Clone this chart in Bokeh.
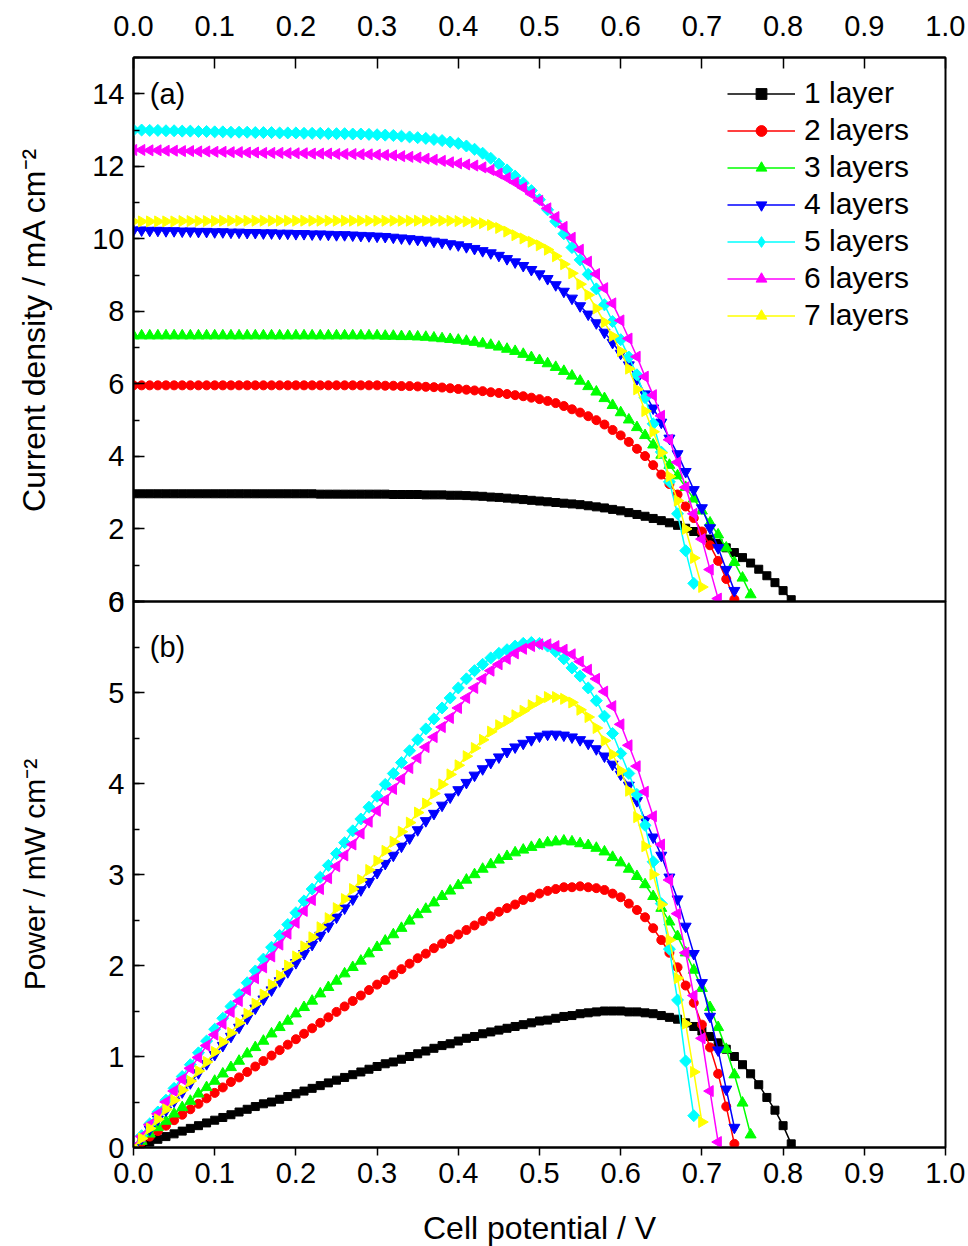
import math
from bokeh.plotting import figure
from bokeh.models import (Range1d, SingleIntervalTicker, NumeralTickFormatter,
                          Legend, LegendItem, Label)
from bokeh.layouts import column
from bokeh.embed import file_html
from bokeh.resources import INLINE

FONT = "Liberation Sans"

# ---------------- data ----------------
potential = [0.00, 0.01, 0.02, 0.03, 0.04, 0.05, 0.06, 0.07, 0.08, 0.09,
             0.10, 0.11, 0.12, 0.13, 0.14, 0.15, 0.16, 0.17, 0.18, 0.19,
             0.20, 0.21, 0.22, 0.23, 0.24, 0.25, 0.26, 0.27, 0.28, 0.29,
             0.30, 0.31, 0.32, 0.33, 0.34, 0.35, 0.36, 0.37, 0.38, 0.39,
             0.40, 0.41, 0.42, 0.43, 0.44, 0.45, 0.46, 0.47, 0.48, 0.49,
             0.50, 0.51, 0.52, 0.53, 0.54, 0.55, 0.56, 0.57, 0.58, 0.59,
             0.60, 0.61, 0.62, 0.63, 0.64, 0.65, 0.66, 0.67, 0.68, 0.69,
             0.70, 0.71, 0.72, 0.73, 0.74, 0.75, 0.76, 0.77, 0.78, 0.79,
             0.80, 0.81]

labels = ["1 layer", "2 layers", "3 layers", "4 layers", "5 layers", "6 layers", "7 layers"]

j_1 = [2.97, 2.97, 2.97, 2.97, 2.97, 2.97, 2.97, 2.97, 2.97, 2.97,
       2.97, 2.97, 2.97, 2.97, 2.97, 2.97, 2.97, 2.97, 2.97, 2.97,
       2.97, 2.97, 2.97, 2.96, 2.96, 2.96, 2.96, 2.96, 2.96, 2.96,
       2.96, 2.96, 2.95, 2.95, 2.95, 2.95, 2.94, 2.94, 2.94, 2.93,
       2.93, 2.92, 2.91, 2.90, 2.88, 2.87, 2.85, 2.83, 2.81, 2.79,
       2.77, 2.75, 2.73, 2.71, 2.69, 2.67, 2.64, 2.61, 2.58, 2.54,
       2.50, 2.45, 2.40, 2.35, 2.29, 2.23, 2.17, 2.10, 2.02, 1.93,
       1.83, 1.72, 1.60, 1.48, 1.35, 1.21, 1.06, 0.89, 0.71, 0.52,
       0.30, 0.05]
j_2 = [5.96, 5.96, 5.96, 5.96, 5.96, 5.96, 5.96, 5.96, 5.96, 5.96,
       5.96, 5.96, 5.96, 5.96, 5.96, 5.96, 5.96, 5.96, 5.96, 5.96,
       5.96, 5.96, 5.96, 5.96, 5.96, 5.96, 5.96, 5.96, 5.96, 5.96,
       5.96, 5.95, 5.95, 5.94, 5.94, 5.93, 5.92, 5.91, 5.90, 5.88,
       5.86, 5.84, 5.82, 5.80, 5.77, 5.75, 5.72, 5.69, 5.66, 5.62,
       5.58, 5.53, 5.47, 5.39, 5.30, 5.21, 5.11, 5.00, 4.88, 4.73,
       4.58, 4.40, 4.21, 4.01, 3.76, 3.50, 3.24, 2.95, 2.62, 2.30,
       1.93, 1.55, 1.12, 0.62, 0.06]
j_3 = [7.33, 7.33, 7.33, 7.33, 7.33, 7.33, 7.33, 7.33, 7.33, 7.33,
       7.33, 7.33, 7.33, 7.33, 7.33, 7.33, 7.33, 7.33, 7.33, 7.33,
       7.33, 7.33, 7.33, 7.33, 7.33, 7.33, 7.33, 7.33, 7.33, 7.33,
       7.33, 7.32, 7.32, 7.31, 7.31, 7.30, 7.29, 7.27, 7.25, 7.23,
       7.21, 7.18, 7.15, 7.11, 7.07, 7.02, 6.96, 6.90, 6.82, 6.73,
       6.65, 6.56, 6.46, 6.35, 6.22, 6.08, 5.93, 5.78, 5.60, 5.41,
       5.21, 5.01, 4.80, 4.58, 4.32, 4.04, 3.76, 3.47, 3.15, 2.83,
       2.50, 2.17, 1.84, 1.48, 1.08, 0.65, 0.19]
j_4 = [10.24, 10.24, 10.23, 10.23, 10.22, 10.22, 10.21, 10.21, 10.20, 10.20,
       10.19, 10.19, 10.18, 10.18, 10.17, 10.17, 10.16, 10.16, 10.15, 10.15,
       10.14, 10.14, 10.13, 10.13, 10.12, 10.11, 10.11, 10.10, 10.09, 10.08,
       10.07, 10.06, 10.04, 10.02, 10.00, 9.98, 9.96, 9.93, 9.90, 9.86,
       9.83, 9.78, 9.73, 9.67, 9.61, 9.54, 9.45, 9.36, 9.26, 9.15,
       9.03, 8.90, 8.73, 8.55, 8.36, 8.15, 7.92, 7.68, 7.42, 7.14,
       6.84, 6.52, 6.14, 5.72, 5.33, 4.94, 4.50, 4.07, 3.58, 3.08,
       2.58, 2.03, 1.48, 0.88, 0.30]
j_5 = [13.00, 13.00, 12.99, 12.99, 12.98, 12.98, 12.97, 12.97, 12.96, 12.96,
       12.95, 12.95, 12.94, 12.94, 12.94, 12.93, 12.93, 12.93, 12.92, 12.92,
       12.92, 12.91, 12.91, 12.91, 12.90, 12.90, 12.90, 12.89, 12.89, 12.88,
       12.87, 12.86, 12.85, 12.83, 12.81, 12.79, 12.77, 12.74, 12.71, 12.67,
       12.63, 12.56, 12.47, 12.36, 12.22, 12.06, 11.90, 11.73, 11.54, 11.33,
       11.08, 10.80, 10.48, 10.14, 9.76, 9.42, 9.02, 8.62, 8.18, 7.72,
       7.22, 6.74, 6.25, 5.62, 4.90, 4.12, 3.30, 2.42, 1.40, 0.50]
j_6 = [12.45, 12.45, 12.44, 12.44, 12.43, 12.43, 12.42, 12.42, 12.41, 12.41,
       12.40, 12.40, 12.39, 12.39, 12.38, 12.38, 12.37, 12.37, 12.37, 12.36,
       12.36, 12.36, 12.35, 12.35, 12.35, 12.34, 12.34, 12.34, 12.33, 12.33,
       12.32, 12.31, 12.30, 12.28, 12.26, 12.24, 12.21, 12.18, 12.15, 12.11,
       12.08, 12.05, 12.02, 11.97, 11.90, 11.80, 11.68, 11.55, 11.41, 11.24,
       11.05, 10.84, 10.60, 10.33, 10.03, 9.70, 9.37, 9.03, 8.64, 8.22,
       7.75, 7.25, 6.75, 6.20, 5.69, 5.12, 4.46, 3.84, 3.15, 2.42,
       1.72, 0.88, 0.08]
j_7 = [10.48, 10.48, 10.48, 10.48, 10.48, 10.48, 10.49, 10.49, 10.49, 10.49,
       10.49, 10.50, 10.50, 10.50, 10.50, 10.50, 10.50, 10.50, 10.50, 10.50,
       10.50, 10.50, 10.50, 10.50, 10.50, 10.50, 10.50, 10.50, 10.50, 10.50,
       10.50, 10.50, 10.50, 10.50, 10.50, 10.50, 10.50, 10.50, 10.50, 10.50,
       10.49, 10.48, 10.46, 10.43, 10.38, 10.30, 10.20, 10.10, 10.01, 9.92,
       9.82, 9.70, 9.52, 9.30, 9.05, 8.75, 8.45, 8.08, 7.70, 7.32,
       6.90, 6.42, 5.85, 5.25, 4.68, 4.10, 3.45, 2.78, 2.00, 1.20,
       0.40]

p_1 = [0.00, 0.03, 0.06, 0.09, 0.12, 0.15, 0.18, 0.21, 0.24, 0.27,
       0.30, 0.33, 0.36, 0.39, 0.42, 0.45, 0.48, 0.50, 0.53, 0.56,
       0.59, 0.62, 0.65, 0.68, 0.71, 0.74, 0.77, 0.80, 0.83, 0.86,
       0.89, 0.92, 0.94, 0.97, 1.00, 1.03, 1.06, 1.09, 1.12, 1.14,
       1.17, 1.20, 1.22, 1.25, 1.27, 1.29, 1.31, 1.33, 1.35, 1.37,
       1.39, 1.40, 1.42, 1.44, 1.45, 1.47, 1.48, 1.49, 1.50, 1.50,
       1.50, 1.49, 1.49, 1.48, 1.47, 1.45, 1.43, 1.41, 1.37, 1.33,
       1.28, 1.22, 1.15, 1.08, 1.00, 0.91, 0.81, 0.69, 0.55, 0.41,
       0.24, 0.04]
p_2 = [0.00, 0.06, 0.12, 0.18, 0.24, 0.30, 0.36, 0.42, 0.48, 0.54,
       0.60, 0.66, 0.72, 0.77, 0.83, 0.89, 0.95, 1.01, 1.07, 1.13,
       1.19, 1.25, 1.31, 1.37, 1.43, 1.49, 1.55, 1.61, 1.67, 1.73,
       1.79, 1.84, 1.90, 1.96, 2.02, 2.08, 2.13, 2.19, 2.24, 2.29,
       2.34, 2.39, 2.44, 2.49, 2.54, 2.59, 2.63, 2.67, 2.72, 2.75,
       2.79, 2.82, 2.84, 2.86, 2.86, 2.87, 2.86, 2.85, 2.83, 2.79,
       2.75, 2.68, 2.61, 2.53, 2.41, 2.28, 2.14, 1.98, 1.78, 1.59,
       1.35, 1.10, 0.81, 0.45, 0.04]
p_3 = [0.00, 0.07, 0.15, 0.22, 0.29, 0.37, 0.44, 0.51, 0.59, 0.66,
       0.73, 0.81, 0.88, 0.95, 1.03, 1.10, 1.17, 1.25, 1.32, 1.39,
       1.47, 1.54, 1.61, 1.69, 1.76, 1.83, 1.91, 1.98, 2.05, 2.13,
       2.20, 2.27, 2.34, 2.41, 2.49, 2.56, 2.62, 2.69, 2.76, 2.82,
       2.88, 2.94, 3.00, 3.06, 3.11, 3.16, 3.20, 3.24, 3.27, 3.30,
       3.33, 3.35, 3.36, 3.37, 3.36, 3.34, 3.32, 3.29, 3.25, 3.19,
       3.13, 3.06, 2.98, 2.89, 2.76, 2.63, 2.48, 2.32, 2.14, 1.95,
       1.75, 1.54, 1.32, 1.08, 0.80, 0.49, 0.14]
p_4 = [0.00, 0.10, 0.20, 0.31, 0.41, 0.51, 0.61, 0.71, 0.82, 0.92,
       1.02, 1.12, 1.22, 1.32, 1.42, 1.53, 1.63, 1.73, 1.83, 1.93,
       2.03, 2.13, 2.23, 2.33, 2.43, 2.53, 2.63, 2.73, 2.83, 2.92,
       3.02, 3.12, 3.21, 3.31, 3.40, 3.49, 3.59, 3.67, 3.76, 3.85,
       3.93, 4.01, 4.09, 4.16, 4.23, 4.29, 4.35, 4.40, 4.44, 4.48,
       4.52, 4.54, 4.54, 4.53, 4.51, 4.48, 4.44, 4.38, 4.30, 4.21,
       4.10, 3.98, 3.81, 3.60, 3.41, 3.21, 2.97, 2.73, 2.43, 2.13,
       1.81, 1.44, 1.07, 0.64, 0.22]
p_5 = [0.00, 0.13, 0.26, 0.39, 0.52, 0.65, 0.78, 0.91, 1.04, 1.17,
       1.30, 1.42, 1.55, 1.68, 1.81, 1.94, 2.07, 2.20, 2.33, 2.45,
       2.58, 2.71, 2.84, 2.97, 3.10, 3.23, 3.35, 3.48, 3.61, 3.74,
       3.86, 3.99, 4.11, 4.23, 4.36, 4.48, 4.60, 4.71, 4.83, 4.94,
       5.05, 5.15, 5.24, 5.31, 5.38, 5.43, 5.47, 5.51, 5.54, 5.55,
       5.54, 5.51, 5.45, 5.37, 5.27, 5.18, 5.05, 4.91, 4.74, 4.55,
       4.33, 4.11, 3.88, 3.54, 3.14, 2.68, 2.18, 1.62, 0.95, 0.35]
p_6 = [0.00, 0.12, 0.25, 0.37, 0.50, 0.62, 0.75, 0.87, 0.99, 1.12,
       1.24, 1.36, 1.49, 1.61, 1.73, 1.86, 1.98, 2.10, 2.23, 2.35,
       2.47, 2.60, 2.72, 2.84, 2.96, 3.09, 3.21, 3.33, 3.45, 3.58,
       3.70, 3.82, 3.94, 4.05, 4.17, 4.28, 4.40, 4.51, 4.62, 4.72,
       4.83, 4.94, 5.05, 5.15, 5.24, 5.31, 5.37, 5.43, 5.48, 5.51,
       5.53, 5.53, 5.51, 5.47, 5.42, 5.34, 5.25, 5.15, 5.01, 4.85,
       4.65, 4.42, 4.19, 3.91, 3.64, 3.33, 2.94, 2.57, 2.14, 1.67,
       1.20, 0.62, 0.06]
p_7 = [0.00, 0.10, 0.21, 0.31, 0.42, 0.52, 0.63, 0.73, 0.84, 0.94,
       1.05, 1.16, 1.26, 1.37, 1.47, 1.58, 1.68, 1.79, 1.89, 2.00,
       2.10, 2.21, 2.31, 2.42, 2.52, 2.63, 2.73, 2.84, 2.94, 3.05,
       3.15, 3.26, 3.36, 3.47, 3.57, 3.68, 3.78, 3.89, 3.99, 4.10,
       4.20, 4.30, 4.39, 4.48, 4.57, 4.64, 4.69, 4.75, 4.80, 4.86,
       4.91, 4.95, 4.95, 4.93, 4.89, 4.81, 4.73, 4.61, 4.47, 4.32,
       4.14, 3.92, 3.63, 3.31, 3.00, 2.67, 2.28, 1.86, 1.36, 0.83,
       0.28]

current = [j_1, j_2, j_3, j_4, j_5, j_6, j_7]
power = [p_1, p_2, p_3, p_4, p_5, p_6, p_7]

# ---------------- styles ----------------
colors = ["#000000", "#FF0000", "#00FF00", "#0000FF", "#00FFFF", "#FF00FF", "#FFFF00"]
markers = ["square", "circle", "triangle", "inverted_triangle", "square", "triangle", "triangle"]
angles = [0, 0, 0, 0, math.pi / 4, math.pi / 2, -math.pi / 2]
sizes = [8, 9, 11, 11, 8.5, 11, 11]
legend_markers = ["square", "circle", "triangle", "inverted_triangle", "diamond", "triangle", "triangle"]


def style(p):
    p.xgrid.visible = False
    p.ygrid.visible = False
    p.outline_line_color = "black"
    p.outline_line_width = 2
    p.outline_line_alpha = 1
    p.border_fill_alpha = 0
    for ax in p.axis:
        ax.axis_line_width = 2
        ax.major_tick_line_width = 1.5
        ax.minor_tick_line_width = 1.5
        ax.major_label_text_font = FONT
        ax.major_label_text_font_size = "29px"
        ax.major_label_text_color = "black"
        ax.axis_label_text_font = FONT
        ax.axis_label_text_font_size = "30px"
        ax.axis_label_text_font_style = "normal"
        ax.axis_label_text_color = "black"


# ---------------- top panel: current density ----------------
top = figure(frame_width=812, frame_height=544,
             x_range=Range1d(0, 1), y_range=Range1d(0, 15),
             x_axis_location="above", output_backend="svg", toolbar_location=None,
             min_border_left=133, min_border_right=20, min_border_top=57, min_border_bottom=20,
             margin=(0, 0, 0, 0))
style(top)

xa = top.xaxis[0]
xa.ticker = SingleIntervalTicker(interval=0.1, num_minor_ticks=0)
xa.formatter = NumeralTickFormatter(format="0.0")
xa.major_tick_in = 11
xa.major_tick_out = 0
xa.minor_tick_line_color = None
xa.major_label_standoff = 22

ya = top.yaxis[0]
ya.ticker = SingleIntervalTicker(interval=2, num_minor_ticks=2)
ya.major_tick_in = 11
ya.major_tick_out = 0
ya.minor_tick_in = 6
ya.minor_tick_out = 0
ya.major_label_standoff = 9
ya.axis_label = "Current density / mA cm\u207b\u00b2"
ya.axis_label_text_font_size = "32px"
ya.axis_label_standoff = 37

items = []
for k in range(7):
    n = len(current[k])
    xs = potential[:n]
    lr = top.line(xs, current[k], line_color=colors[k], line_width=1.5)
    sr = top.scatter(xs, current[k], marker=markers[k], size=sizes[k], angle=angles[k],
                     fill_color=colors[k], line_color=colors[k])
    if legend_markers[k] != markers[k]:
        # hidden twin renderer that only supplies the legend swatch marker
        sr = top.scatter(xs, current[k], marker=legend_markers[k], size=11,
                         fill_color=colors[k], line_color=colors[k], visible=False)
    items.append(LegendItem(label=labels[k], renderers=[lr, sr]))

legend = Legend(items=items, location="top_right", border_line_color=None,
                background_fill_alpha=0, label_text_font=FONT, label_text_font_size="30px",
                label_text_color="black", glyph_width=68, glyph_height=27, label_standoff=9,
                spacing=3, padding=5, margin=19, label_width=122)
top.add_layout(legend)

top.add_layout(Label(x=0.02, y=14, text="(a)", text_baseline="middle",
                     text_font=FONT, text_font_size="29px", text_color="black"))

# ---------------- bottom panel: power ----------------
bot = figure(frame_width=812, frame_height=546,
             x_range=Range1d(0, 1), y_range=Range1d(0, 6),
             output_backend="svg", toolbar_location=None,
             min_border_left=133, min_border_right=20, min_border_top=20, min_border_bottom=96,
             margin=(-40, 0, 0, 0))
style(bot)
bot.background_fill_alpha = 0

bx = bot.xaxis[0]
bx.ticker = SingleIntervalTicker(interval=0.1, num_minor_ticks=0)
bx.formatter = NumeralTickFormatter(format="0.0")
bx.major_tick_in = 0
bx.major_tick_out = 8
bx.minor_tick_line_color = None
bx.major_label_standoff = 7
bx.axis_label = "Cell potential / V"
bx.axis_label_text_font_size = "32px"
bx.axis_label_standoff = 24

by = bot.yaxis[0]
by.ticker = SingleIntervalTicker(interval=1, num_minor_ticks=2)
by.major_tick_in = 11
by.major_tick_out = 0
by.minor_tick_in = 6
by.minor_tick_out = 0
by.major_label_standoff = 9
by.axis_label = "Power / mW cm\u207b\u00b2"
by.axis_label_standoff = 54

for k in range(7):
    n = len(power[k])
    xs = potential[:n]
    bot.line(xs, power[k], line_color=colors[k], line_width=1.5)
    bot.scatter(xs, power[k], marker=markers[k], size=sizes[k], angle=angles[k],
                fill_color=colors[k], line_color=colors[k])

bot.add_layout(Label(x=0.02, y=5.5, text="(b)", text_baseline="middle",
                     text_font=FONT, text_font_size="29px", text_color="black"))

layout = column(top, bot, spacing=0)
open("out.html", "w").write(file_html(layout, INLINE))
